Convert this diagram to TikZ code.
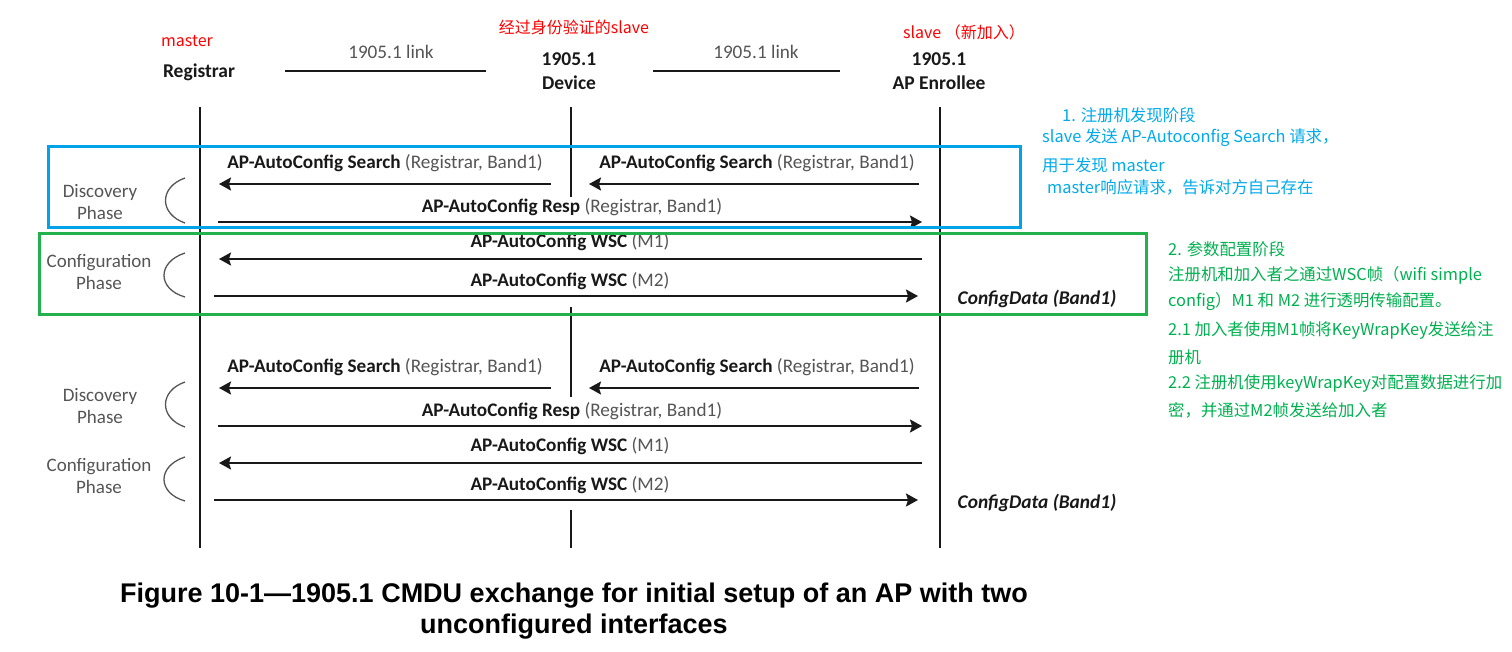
\documentclass[tikz,border=0pt]{standalone}
\usepackage{fontspec}
\setmainfont{Carlito}
\newfontfamily\cjk{Noto Sans CJK SC}
\newfontfamily\capfont{Liberation Sans}
\usetikzlibrary{arrows.meta,positioning}
\definecolor{noteblue}{RGB}{0,170,235}
\definecolor{boxblue}{RGB}{0,162,232}
\definecolor{notegreen}{RGB}{0,176,80}
\definecolor{boxgreen}{RGB}{34,177,76}
\definecolor{notered}{RGB}{255,0,0}
\definecolor{ink}{RGB}{25,25,25}
\definecolor{soft}{RGB}{85,85,85}
\newcommand{\msgtxt}[2]{{\bfseries\color{ink}#1} #2}
\tikzset{
  life/.style={line width=1.5pt, color=ink},
  msg/.style={line width=2pt, color=ink, -{Stealth[length=12pt,width=13pt,inset=2pt]}},
  lbl/.style={inner sep=0pt, text=soft, font=\fontsize{19.2}{21}\selectfont},
  hdr/.style={inner sep=0pt, text=ink, align=center, font=\fontsize{19.5}{24}\selectfont\bfseries},
  phase/.style={inner sep=0pt, text=soft, align=center, font=\fontsize{19}{22.5}\selectfont},
  brk/.style={line width=1.3pt, color=soft},
  cfgdata/.style={inner sep=0pt, text=ink, font=\fontsize{19.4}{21}\selectfont\bfseries\itshape},
  rednote/.style={inner sep=0pt, text=notered, font=\cjk\fontsize{16}{18}\selectfont},
  bluenote/.style={inner sep=0pt, anchor=west, text=noteblue, font=\cjk\fontsize{16.4}{18}\selectfont},
  greennote/.style={inner sep=0pt, anchor=west, text=notegreen, font=\cjk\fontsize{16.4}{18}\selectfont},
  hlbox/.style={line width=3pt}
}
\begin{document}
\begin{tikzpicture}[x=1pt,y=-1pt]
\useasboundingbox[fill=white] (0,0) rectangle (1512,651);
% heads of the three lifelines
\node[rednote] (mst) at (187,41) {master};
\node[hdr] (reg) at (199,72) {Registrar};
\node[rednote] (auth) at (574,27) {经过身份验证的slave};
\node[hdr] (dev) at (569,71) {1905.1\\Device};
\node[rednote] (new) at (964,32) {slave （新加入）};
\node[hdr] (enr) at (939,71) {1905.1\\AP Enrollee};
\node[lbl] (lnk1) at (391,52) {1905.1 link};
\node[lbl] (lnk2) at (756,52) {1905.1 link};
\coordinate (lnk1a) at (285,71); \coordinate (lnk1b) at (486,71);
\coordinate (lnk2a) at (653,71); \coordinate (lnk2b) at (840,71);
\draw[line width=2pt, color=ink] (lnk1a) -- (lnk1b);
\draw[line width=2pt, color=ink] (lnk2a) -- (lnk2b);
% lifelines
\coordinate (regT) at (200,107); \coordinate (regB) at (200,548);
\coordinate (enrT) at (940,107); \coordinate (enrB) at (940,548);
\draw[life] (regT) -- (regB);
\draw[life] (enrT) -- (enrB);
\foreach \ya/\yb [count=\i] in {107/197,307/397,510/548}
  \draw[life] (571,\ya) coordinate (devT\i) -- (571,\yb) coordinate (devB\i);
% the two rounds of messages
\foreach \off/\b in {0/a,204/b} {
  \node[phase] (disc\b) at (100,202+\off) {Discovery\\Phase};
  \draw[brk] (185,178+\off) .. controls (159,187+\off) and (159,214+\off) .. (185,223+\off);
  \node[phase] (conf\b) at (99,272+\off) {Configuration\\Phase};
  \draw[brk] (185,253+\off) .. controls (157,262+\off) and (157,289+\off) .. (185,297+\off);
  % search, both hops
  \node[lbl] (srchL\b) at (385,163+\off) {\msgtxt{AP-AutoConfig Search}{(Registrar, Band1)}};
  \node[lbl] (srchR\b) at (757,163+\off) {\msgtxt{AP-AutoConfig Search}{(Registrar, Band1)}};
  \coordinate (s1\b) at (551,184+\off); \coordinate (s2\b) at (219,184+\off);
  \coordinate (s3\b) at (919,184+\off); \coordinate (s4\b) at (589,184+\off);
  \draw[msg] (s1\b) -- (s2\b);
  \draw[msg] (s3\b) -- (s4\b);
  % response
  \node[lbl] (resp\b) at (572,207+\off) {\msgtxt{AP-AutoConfig Resp}{(Registrar, Band1)}};
  \coordinate (r1\b) at (218,222+\off); \coordinate (r2\b) at (922,222+\off);
  \draw[msg] (r1\b) -- (r2\b);
  % wsc m1 and m2
  \node[lbl] (mone\b) at (570,242+\off) {\msgtxt{AP-AutoConfig WSC}{(M1)}};
  \coordinate (w1\b) at (922,259+\off); \coordinate (w2\b) at (219,259+\off);
  \draw[msg] (w1\b) -- (w2\b);
  \node[lbl] (mtwo\b) at (570,281+\off) {\msgtxt{AP-AutoConfig WSC}{(M2)}};
  \coordinate (w3\b) at (214,296+\off); \coordinate (w4\b) at (918,296+\off);
  \draw[msg] (w3\b) -- (w4\b);
  \node[cfgdata] (cfg\b) at (1037,299+\off) {ConfigData (Band1)};
}
% highlight boxes
\draw[hlbox, boxblue] (48,146) rectangle (1020,227);
\draw[hlbox, boxgreen] (39,233) rectangle (1146,314);
% notes
\node[bluenote] (b1) at (1062,115) {1. 注册机发现阶段};
\node[bluenote] (b2) at (1042,138) {slave 发送 AP-Autoconfig Search 请求，};
\node[bluenote] (b3) at (1042,165) {用于发现 master};
\node[bluenote] (b4) at (1047,187) {master响应请求，告诉对方自己存在};
\node[greennote] (g1) at (1168,249) {2. 参数配置阶段};
\node[greennote] (g2) at (1168,275) {注册机和加入者之通过WSC帧（wifi simple};
\node[greennote] (g3) at (1168,302) {config）M1 和 M2 进行透明传输配置。};
\node[greennote] (g4) at (1168,330) {2.1 加入者使用M1帧将KeyWrapKey发送给注};
\node[greennote] (g5) at (1168,357) {册机};
\node[greennote] (g6) at (1168,383) {2.2 注册机使用keyWrapKey对配置数据进行加};
\node[greennote] (g7) at (1168,410) {密，并通过M2帧发送给加入者};
% caption
\node[inner sep=0pt, align=center, text=black, font=\capfont\bfseries\fontsize{27}{31}\selectfont] (cap) at (574,611)
  {Figure 10-1—1905.1 CMDU exchange for initial setup of an AP with two\\unconfigured interfaces};
\end{tikzpicture}
\end{document}
